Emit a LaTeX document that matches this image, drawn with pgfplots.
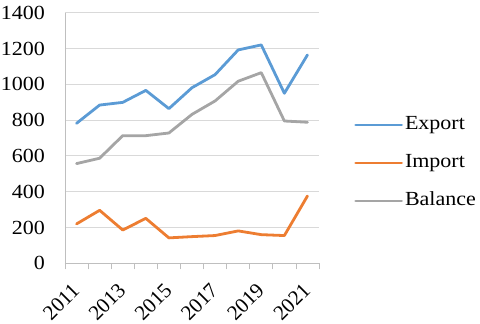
\documentclass[border=0pt]{standalone}
\usepackage{pgfplots}
\pgfplotsset{compat=1.18}
\usepackage{fontspec}
\setmainfont{Liberation Serif}[FakeStretch=1.1]
% rotated labels get no stretch: it would shear them
\newfontfamily\plainserif{Liberation Serif}
\definecolor{clrExport}{HTML}{5B9BD5}
\definecolor{clrImport}{HTML}{ED7D31}
\definecolor{clrBalance}{HTML}{A5A5A5}
\definecolor{clrGrid}{HTML}{D9D9D9}
\definecolor{clrAxis}{HTML}{BFBFBF}

\begin{document}
\begin{tikzpicture}
\useasboundingbox (0,0) rectangle (480pt,324pt);
\begin{axis}[
  at={(65pt,60.7pt)}, anchor=south west,
  scale only axis,
  width=254pt, height=250.6pt,
  xmin=-0.5, xmax=10.5, ymin=0, ymax=1400,
  xtick={0,2,...,10},
  xticklabels={2011,2013,2015,2017,2019,2021},
  minor xtick={-0.5,0.5,...,10.5},
  ytick={0,200,...,1400},
  axis lines=left,
  axis line style={clrAxis, line width=0.8pt, -},
  ymajorgrids,
  major grid style={clrGrid, line width=0.8pt},
  tick align=outside,
  major tick length=0pt,
  minor tick length=6pt,
  minor x tick style={clrAxis, line width=0.8pt},
  major tick style={draw=none},
  /pgf/number format/assume math mode=true,
  /pgf/number format/1000 sep={},
  tick label style={font=\fontsize{20}{22}\selectfont, text=black},
  yticklabel style={anchor=east, inner sep=0pt, xshift=-20pt},
  xticklabel shift=23pt,
  xticklabel style={font=\plainserif\fontsize{21}{23}\selectfont,
    rotate=45, anchor=east, inner sep=1pt},
  legend style={at={(1.138,0.400)}, anchor=west, draw=none, fill=none,
    inner sep=0pt, row sep=17pt,
    font=\fontsize{20}{22}\selectfont,
    nodes={text height=13pt, text depth=4pt, inner sep=2pt}},
  legend cell align=left,
  legend image code/.code={\draw[#1] (0pt,0pt) -- (46pt,0pt);},
  every axis plot/.append style={line width=2.8pt, line join=round, line cap=round, mark=none},
]
\addplot[clrExport] coordinates {(0,782)(1,884)(2,899)(3,966)(4,864)(5,981)(6,1054)(7,1192)(8,1220)(9,950)(10,1164)};
\addlegendentry{Export}
\addplot[clrImport] coordinates {(0,220)(1,296)(2,186)(3,251)(4,142)(5,149)(6,155)(7,181)(8,160)(9,155)(10,376)};
\addlegendentry{Import}
\addplot[clrBalance] coordinates {(0,557)(1,587)(2,713)(3,713)(4,728)(5,832)(6,907)(7,1017)(8,1065)(9,795)(10,788)};
\addlegendentry{Balance}
\end{axis}
\end{tikzpicture}
\end{document}
